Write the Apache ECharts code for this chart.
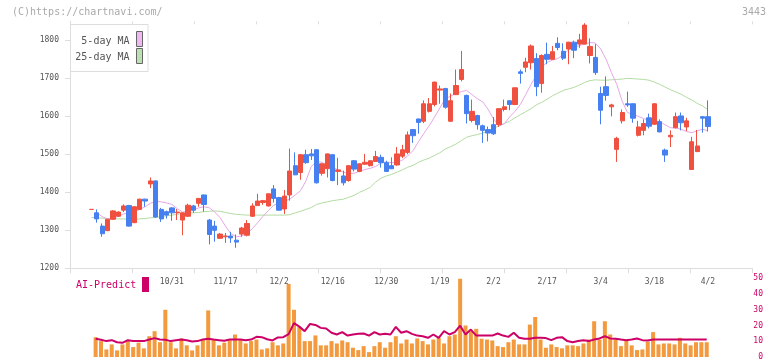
<!DOCTYPE html>
<html><head><meta charset="utf-8">
<script src="https://cdn.jsdelivr.net/npm/echarts@6/dist/echarts.min.js"></script>
<style>html,body{margin:0;padding:0;background:#fff}#c{width:772px;height:361px}</style>
</head><body><div id="c"></div>
<script>
const dates = ['10/9','10/10','10/14','10/15','10/16','10/17','10/20','10/21','10/22','10/23',
'10/24','10/27','10/28','10/29','10/30','10/31','11/4','11/5','11/6','11/7',
'11/10','11/11','11/12','11/13','11/14','11/17','11/18','11/19','11/20','11/21',
'11/25','11/26','11/27','11/28','12/1','12/2','12/3','12/4','12/5','12/8',
'12/9','12/10','12/11','12/12','12/15','12/16','12/17','12/18','12/19','12/22',
'12/23','12/24','12/25','12/26','12/29','12/30','1/5','1/6','1/7','1/8',
'1/9','1/13','1/14','1/15','1/16','1/19','1/20','1/21','1/22','1/23',
'1/26','1/27','1/28','1/29','1/30','2/2','2/3','2/4','2/5','2/6',
'2/9','2/10','2/12','2/13','2/16','2/17','2/18','2/19','2/20','2/24',
'2/25','2/26','2/27','3/2','3/3','3/4','3/5','3/6','3/9','3/10',
'3/11','3/12','3/13','3/16','3/17','3/18','3/19','3/23','3/24','3/25',
'3/26','3/27','3/30','3/31','4/1','4/2'];
const tickLabels = ['10/31','11/17','12/2','12/16','12/30','1/19','2/2','2/17','3/4','3/18','4/2'];

const open  = [1355,1346,1311,1299,1329,1337,1353,1365,1320,1355,1382,1422,1430,1355,1349,1359,1346,1327,1337,1364,
1371,1393,1327,1311,1279,1283,1285,1274,1290,1287,1337,1365,1373,1364,1409,1386,1356,1393,1470,1452,
1499,1501,1512,1450,1462,1499,1455,1443,1431,1483,1455,1474,1470,1481,1492,1478,1470,1472,1495,1505,
1565,1593,1587,1613,1631,1669,1673,1587,1657,1697,1655,1589,1602,1575,1565,1578,1578,1618,1641,1631,
1717,1729,1741,1752,1686,1763,1750,1792,1771,1777,1795,1790,1790,1760,1755,1660,1678,1625,1513,1588,
1633,1633,1550,1563,1596,1579,1586,1511,1546,1570,1601,1572,1460,1507,1599,1599];
const close = [1355,1330,1291,1329,1351,1348,1364,1311,1362,1382,1377,1430,1335,1330,1340,1346,1348,1346,1366,1353,
1384,1368,1289,1300,1290,1285,1280,1269,1306,1318,1364,1377,1378,1396,1384,1353,1390,1456,1446,1499,
1478,1496,1425,1475,1501,1431,1459,1425,1470,1461,1475,1479,1483,1494,1478,1455,1462,1501,1512,1551,
1549,1584,1633,1633,1690,1672,1624,1641,1681,1723,1607,1613,1578,1563,1556,1554,1620,1625,1631,1675,
1713,1743,1785,1678,1760,1750,1770,1781,1753,1795,1774,1801,1840,1784,1715,1616,1655,1630,1542,1610,
1630,1595,1572,1581,1574,1633,1559,1498,1550,1599,1583,1588,1533,1522,1595,1573];
const high  = [1355,1355,1318,1330,1353,1350,1368,1367,1364,1383,1383,1439,1431,1359,1352,1361,1356,1347,1370,1367,
1385,1394,1330,1325,1293,1293,1296,1289,1309,1327,1371,1396,1380,1397,1419,1388,1406,1515,1505,1501,
1512,1514,1513,1476,1502,1500,1491,1457,1471,1485,1476,1501,1484,1509,1499,1483,1492,1519,1525,1560,
1566,1594,1642,1648,1691,1681,1675,1660,1723,1772,1657,1644,1604,1578,1573,1598,1621,1644,1642,1676,
1723,1754,1789,1766,1763,1794,1785,1808,1792,1796,1799,1817,1845,1805,1790,1678,1705,1633,1546,1618,
1665,1634,1588,1592,1607,1634,1592,1515,1563,1610,1610,1596,1546,1564,1600,1642];
const low   = [1355,1320,1283,1298,1327,1335,1348,1310,1319,1354,1362,1411,1333,1322,1331,1325,1327,1287,1335,1346,
1362,1349,1263,1270,1277,1267,1267,1254,1283,1284,1335,1364,1367,1363,1373,1352,1343,1378,1445,1433,
1475,1485,1423,1444,1439,1429,1419,1418,1428,1455,1453,1472,1468,1480,1465,1454,1461,1470,1490,1500,
1530,1554,1582,1610,1626,1633,1620,1586,1656,1692,1581,1584,1565,1530,1534,1551,1572,1613,1616,1630,
1686,1716,1723,1653,1662,1737,1749,1774,1748,1737,1753,1780,1789,1739,1709,1579,1641,1600,1480,1581,
1625,1583,1547,1550,1568,1578,1558,1480,1519,1568,1563,1561,1459,1506,1557,1560];

const ma5 = [null,1346,1336,1330,1331,1337,1343,1346,1348,1355,1362,1371,1376,1375,1372,1368,1357,1348,1350,1354,
1359,1362,1359,1348,1333,1311,1291,1283,1285,1291,1304,1320,1337,1352,1366,1372,1376,1382,1393,1404,
1430,1468,1481,1479,1470,1466,1459,1453,1450,1450,1455,1460,1463,1468,1477,1480,1478,1478,1485,1496,
1510,1533,1555,1575,1598,1622,1646,1653,1660,1665,1668,1657,1646,1638,1618,1593,1575,1580,1598,1613,
1631,1657,1684,1708,1730,1742,1748,1752,1762,1775,1781,1786,1790,1794,1793,1777,1750,1715,1684,1640,
1610,1605,1600,1594,1590,1588,1586,1578,1570,1569,1566,1560,1557,1562,1566,1562];
const ma25 = [1334,1333,1332,1331,1331,1330,1330,1329,1329,1330,1331,1333,1334,1336,1338,1340,1342,1344,1345,1346,
1347,1349,1350,1351,1350,1347,1344,1342,1341,1340,1340,1340,1340,1340,1340,1340,1340,1341,1346,1350,
1355,1360,1368,1372,1375,1378,1380,1382,1387,1392,1400,1406,1413,1427,1437,1443,1447,1453,1459,1466,
1471,1479,1485,1490,1497,1504,1514,1520,1527,1536,1545,1549,1552,1556,1561,1568,1575,1581,1587,1596,
1604,1612,1620,1630,1637,1645,1654,1661,1668,1672,1676,1682,1689,1694,1696,1695,1695,1696,1697,1698,
1700,1699,1698,1697,1695,1690,1684,1677,1670,1664,1658,1650,1643,1634,1627,1618];

const volume = [null,12.6,10.1,4.8,8.0,4.2,8.0,10.1,6.3,9.1,5.5,13.2,16.4,9.4,30.0,9.4,5.5,11.8,7.4,4.2,
7.4,11.1,29.6,11.1,7.4,9.1,10.7,14.3,10.7,8.6,10.1,11.1,4.8,5.5,9.4,7.4,8.6,46.4,30.0,19.0,
10.1,10.1,13.7,7.4,7.4,10.1,8.6,10.5,9.4,5.9,4.4,6.9,3.1,6.9,9.4,5.9,9.4,13.2,8.6,11.1,
8.6,11.8,10.1,8.0,11.1,12.2,8.6,13.2,14.3,49.7,20.0,16.4,17.9,11.6,11.1,10.5,6.9,6.3,9.4,11.1,
8.0,8.0,20.6,25.4,11.1,5.9,8.0,6.3,5.5,7.4,7.4,6.9,8.6,11.1,22.7,11.1,22.7,14.3,11.1,6.9,
10.7,7.4,4.4,4.8,9.7,15.8,8.0,8.6,8.6,8.0,12.2,8.6,7.4,9.4,9.4,9.4];
const aiPredict = [null,11.6,10.9,10.1,10.7,9.4,9.0,10.7,10.1,10.1,10.1,11.1,12.0,11.1,10.9,10.1,10.7,11.1,10.7,9.9,
10.1,11.1,11.6,11.1,10.7,10.3,11.1,11.1,11.1,10.7,11.1,12.8,12.6,11.3,10.5,12.4,12.6,14.5,21.5,19.3,
16.4,21.0,20.4,18.5,18.1,15.4,14.3,15.8,13.6,14.3,14.7,14.9,13.6,15.8,14.3,14.7,14.3,19.1,15.4,16.4,
14.7,13.6,13.2,12.2,14.3,12.2,16.4,14.3,15.8,19.9,14.3,17.4,13.6,13.6,13.6,13.6,14.9,13.6,12.8,15.4,
12.2,11.6,11.6,12.2,12.2,12.0,10.7,12.2,12.6,10.1,9.4,10.1,10.7,10.1,11.1,11.8,13.2,11.8,11.6,11.1,
10.7,11.1,11.8,10.7,10.5,11.1,11.1,11.1,11.1,11.1,11.1,11.1,11.1,11.1,11.1,11.1];

const priceTicks = [1200,1300,1400,1500,1600,1700,1800];

const FONT = '"DejaVu Sans Mono", "Liberation Mono", monospace';
const UP = '#f0503f', DOWN = '#4680f0', AXIS = '#dddddd', TXT = '#555555', AI = '#cc0066';

const chart = echarts.init(document.getElementById('c'), null, {renderer: 'canvas'});
chart.setOption({
  animation: false,
  grid: [
    {left: 70, right: 20, top: 21.3, bottom: 92.7},
    {left: 88.8, right: 61.4, top: 21.3, bottom: 92.7},
    {left: 87.6, right: 62.6, top: 278.3, bottom: 3.3}
  ],
  xAxis: [
    {gridIndex: 0, type: 'value', min: 0, max: 11, interval: 1,
      axisLine: {lineStyle: {color: AXIS}}, axisTick: {length: 5, lineStyle: {color: AXIS}},
      axisLabel: {show: false}, splitLine: {show: false}},
    {gridIndex: 0, type: 'value', min: 0, max: 11, interval: 1,
      axisLine: {show: false}, axisTick: {inside: true, length: 3, lineStyle: {color: AXIS}},
      axisLabel: {show: false}, splitLine: {show: false}},
    {gridIndex: 1, type: 'category', data: dates, boundaryGap: true,
      axisLine: {show: false}, axisTick: {show: false}, splitLine: {show: false},
      axisLabel: {interval: (i, v) => tickLabels.indexOf(v) >= 0, fontSize: 8, color: TXT, margin: 10, fontFamily: FONT}},
    {gridIndex: 2, type: 'category', data: dates, boundaryGap: true, show: false}
  ],
  yAxis: [
    {gridIndex: 0, type: 'value', min: 1200, max: 1850,
      axisLine: {show: true, lineStyle: {color: AXIS}},
      axisTick: {show: true, length: 5, customValues: priceTicks, lineStyle: {color: AXIS}},
      axisLabel: {customValues: priceTicks, formatter: (v) => String(v), fontSize: 8, color: TXT, margin: 11, fontFamily: FONT},
      splitLine: {show: false}},
    {gridIndex: 0, type: 'value', min: 1200, max: 1850,
      axisLine: {show: false},
      axisTick: {show: true, inside: true, length: 3, customValues: priceTicks, lineStyle: {color: AXIS}},
      axisLabel: {show: false}, splitLine: {show: false}},
    {gridIndex: 1, type: 'value', min: 1200, max: 1850, show: false, splitLine: {show: false}},
    {gridIndex: 2, type: 'value', min: 0, max: 50, show: false, splitLine: {show: false}},
    {gridIndex: 2, type: 'value', position: 'right', min: 0, max: 50, interval: 10, offset: 42.6,
      axisLine: {show: false}, axisTick: {show: false}, splitLine: {show: false},
      axisLabel: {color: AI, fontSize: 8, align: 'right', margin: 11, fontFamily: FONT}}
  ],
  series: [
    {type: 'line', name: '25-day MA', xAxisIndex: 2, yAxisIndex: 2, data: ma25, symbol: 'none',
      lineStyle: {color: '#b2dba2', width: 1}, z: 2},
    {type: 'line', name: '5-day MA', xAxisIndex: 2, yAxisIndex: 2, data: ma5, symbol: 'none',
      lineStyle: {color: '#e6a6e6', width: 1}, z: 2},
    {type: 'candlestick', xAxisIndex: 2, yAxisIndex: 2, barWidth: 4.8, z: 3,
      data: open.map((o, i) => [o, close[i], low[i], high[i]]),
      itemStyle: {color: UP, color0: DOWN, borderColor: UP, borderColor0: DOWN, borderWidth: 1}},
    {type: 'bar', xAxisIndex: 3, yAxisIndex: 3, data: volume, barWidth: 4,
      itemStyle: {color: '#f29a3d'}, z: 2},
    {type: 'line', name: 'AI-Predict', xAxisIndex: 3, yAxisIndex: 4, data: aiPredict, symbol: 'none',
      lineStyle: {color: AI, width: 2}, z: 3}
  ],
  graphic: [
    {type: 'text', z: 10, style: {text: '(C)https://chartnavi.com/', x: 12, y: 12, textVerticalAlign: 'middle', font: '10px ' + FONT, fill: '#aaaaaa'}},
    {type: 'text', z: 10, style: {text: '3443', x: 766, y: 12, textAlign: 'right', textVerticalAlign: 'middle', font: '10px ' + FONT, fill: '#aaaaaa'}},
    {type: 'rect', z: 10, shape: {x: 70.5, y: 24.5, width: 77.5, height: 47}, style: {fill: '#ffffff', stroke: '#dddddd', lineWidth: 1}},
    {type: 'text', z: 11, style: {text: '5-day MA', x: 129.5, y: 41, textAlign: 'right', textVerticalAlign: 'middle', font: '10px ' + FONT, fill: TXT}},
    {type: 'rect', z: 11, shape: {x: 136.5, y: 31.5, width: 6, height: 15}, style: {fill: '#f0b8f0', stroke: '#666666', lineWidth: 1}},
    {type: 'text', z: 11, style: {text: '25-day MA', x: 129.5, y: 57, textAlign: 'right', textVerticalAlign: 'middle', font: '10px ' + FONT, fill: TXT}},
    {type: 'rect', z: 11, shape: {x: 136.5, y: 48.5, width: 6, height: 15}, style: {fill: '#bde0b0', stroke: '#666666', lineWidth: 1}},
    {type: 'text', z: 11, style: {text: 'AI-Predict', x: 76, y: 285.5, textVerticalAlign: 'middle', font: '10px ' + FONT, fill: AI}},
    {type: 'rect', z: 11, shape: {x: 142, y: 277, width: 7, height: 15}, style: {fill: AI}}
  ]
});
</script>
</body></html>
